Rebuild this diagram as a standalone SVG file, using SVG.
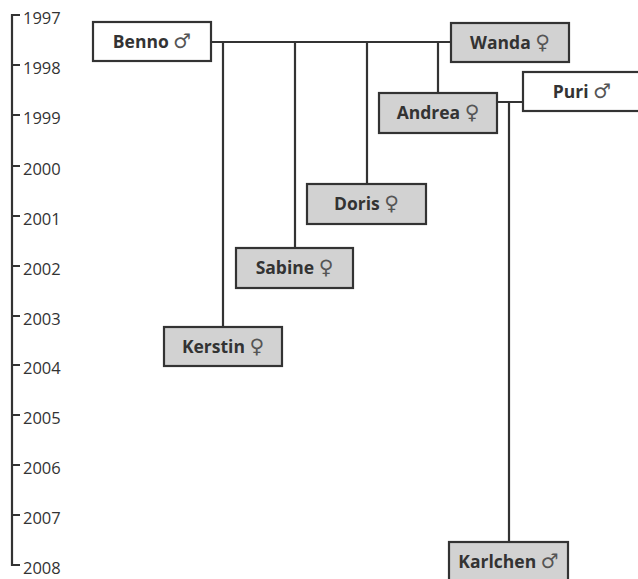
<svg xmlns="http://www.w3.org/2000/svg" width="638" height="579" viewBox="0 0 638 579">
<style>
.ax{stroke:#333;stroke-width:2.2;fill:none}
.yr{font-family:"Open Sans","Liberation Sans",sans-serif;font-size:16.5px;fill:#333}
.box{stroke:#333;stroke-width:2.2}
.m{fill:#fff}
.f{fill:#d2d2d2}
.lbl{font-family:"Open Sans","Liberation Sans",sans-serif;font-size:17.5px;font-weight:bold;fill:#333;text-anchor:middle}
.sym{font-family:"DejaVu Sans",sans-serif;font-weight:normal;fill:#555;font-size:20px}
.c{stroke:#333;stroke-width:2.2;fill:none}
</style>
<g id="axis">
<path class="ax" d="M20,15 H12 V565 H20 M12,65 H20 M12,115 H20 M12,166 H20 M12,216 H20 M12,266 H20 M12,316 H20 M12,365 H20 M12,415 H20 M12,465 H20 M12,515 H20"/>
<text class="yr" x="23" y="24">1997</text>
<text class="yr" x="23" y="74">1998</text>
<text class="yr" x="23" y="124">1999</text>
<text class="yr" x="23" y="175">2000</text>
<text class="yr" x="23" y="225">2001</text>
<text class="yr" x="23" y="275">2002</text>
<text class="yr" x="23" y="325">2003</text>
<text class="yr" x="23" y="374">2004</text>
<text class="yr" x="23" y="424">2005</text>
<text class="yr" x="23" y="474">2006</text>
<text class="yr" x="23" y="524">2007</text>
<text class="yr" x="23" y="574">2008</text>
</g>
<g id="connectors">
<path class="c" d="M211,42 H451 M223,42 V327 M295,42 V248 M367,42 V184 M438,42 V93 M497,102 H523 M509,102 V542"/>
</g>
<g id="benno"><rect class="box m" x="93" y="22" width="118" height="39"/><text class="lbl" x="152" y="48">Benno <tspan class="sym">♂</tspan></text></g>
<g id="wanda"><rect class="box f" x="451" y="23" width="118" height="39"/><text class="lbl" x="510" y="49">Wanda <tspan class="sym">♀</tspan></text></g>
<g id="andrea"><rect class="box f" x="379" y="93" width="118" height="40"/><text class="lbl" x="438" y="119">Andrea <tspan class="sym">♀</tspan></text></g>
<g id="puri"><rect class="box m" x="523" y="72" width="118" height="39"/><text class="lbl" x="582" y="98">Puri <tspan class="sym">♂</tspan></text></g>
<g id="doris"><rect class="box f" x="307" y="184" width="119" height="40"/><text class="lbl" x="366.5" y="210">Doris <tspan class="sym">♀</tspan></text></g>
<g id="sabine"><rect class="box f" x="236" y="248" width="117" height="40"/><text class="lbl" x="294.5" y="274">Sabine <tspan class="sym">♀</tspan></text></g>
<g id="kerstin"><rect class="box f" x="164" y="327" width="118" height="39"/><text class="lbl" x="223" y="353">Kerstin <tspan class="sym">♀</tspan></text></g>
<g id="karlchen"><rect class="box f" x="449" y="542" width="119" height="40"/><text class="lbl" x="508.5" y="568">Karlchen <tspan class="sym">♂</tspan></text></g>
</svg>
